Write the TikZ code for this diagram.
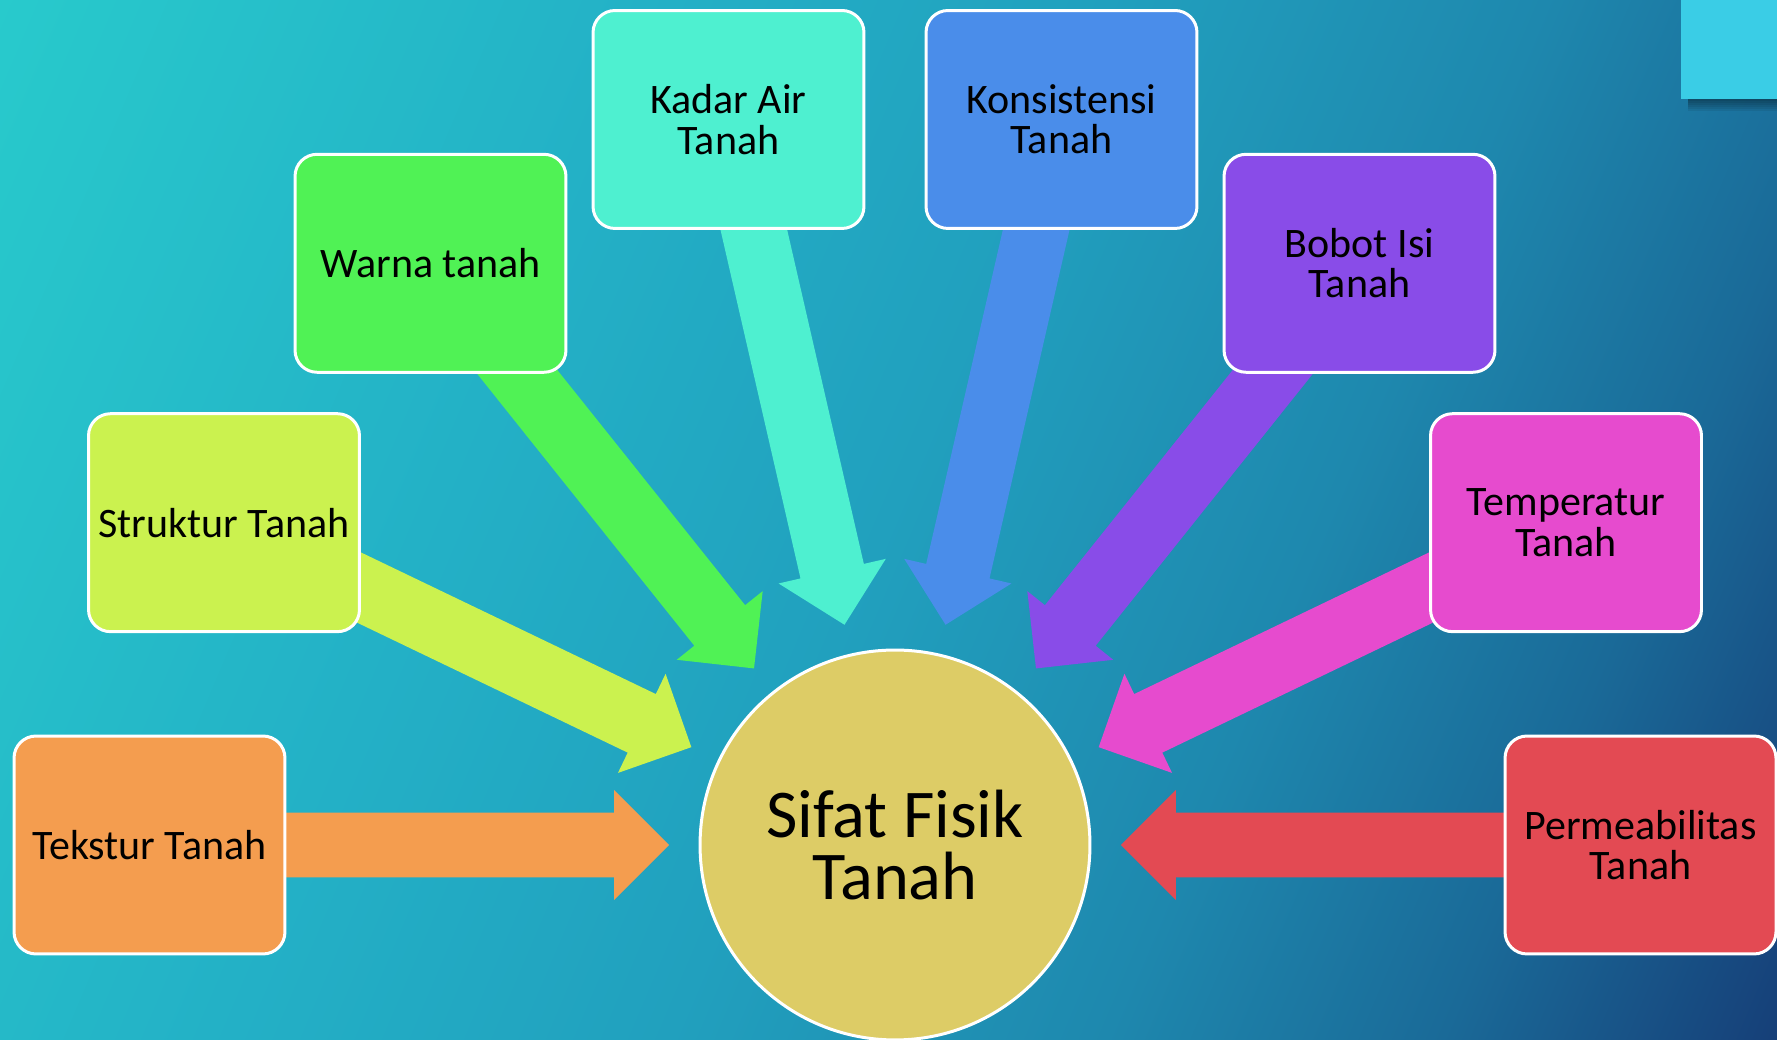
\documentclass[tikz,border=0pt]{standalone}
\usepackage{fontspec}
\setmainfont{Carlito}
\usetikzlibrary{calc}
\definecolor{bgA}{HTML}{28CACC}
\definecolor{bgB}{HTML}{23B0C6}
\definecolor{bgC}{HTML}{21A0BE}
\definecolor{bgD}{HTML}{1E88AE}
\definecolor{bgE}{HTML}{1A6A98}
\definecolor{bgF}{HTML}{163F78}
\definecolor{ctek}{HTML}{F49D4F}
\definecolor{cstr}{HTML}{CBF24F}
\definecolor{cwar}{HTML}{50F255}
\definecolor{ckad}{HTML}{4EF0D0}
\definecolor{ckon}{HTML}{4A8DEA}
\definecolor{cbob}{HTML}{894CE8}
\definecolor{ctem}{HTML}{E64BCE}
\definecolor{cper}{HTML}{E34A53}
\definecolor{ccirc}{HTML}{DDCC66}
\definecolor{ccorner}{HTML}{3ACDE6}
\pgfdeclarehorizontalshading{bgshade}{100bp}{color(0bp)=(bgA); color(17bp)=(bgA); color(37bp)=(bgB); color(50bp)=(bgC); color(63bp)=(bgD); color(73bp)=(bgE); color(83bp)=(bgF); color(100bp)=(bgF)}
\pgfdeclarelayer{bglayer}
\pgfdeclarelayer{arrowlayer}
\pgfsetlayers{bglayer,arrowlayer,main}
\newcommand\bxfont{\fontsize{23.9pt}{22.9pt}\selectfont}
\newcommand\bigfnt{\fontsize{38.9pt}{35.3pt}\selectfont}
\newcommand\blockarrow[2]{%
  \coordinate (#1T) at ($(C.center)!4.52cm!(#1.center)$);
  \coordinate (#1B) at ($(#1T)!1.1cm!(#1.center)$);
  \fill[#2] ($(#1.center)!0.65cm!-90:(#1B)$) -- ($(#1B)!0.65cm!90:(#1.center)$)
    -- ($(#1B)!1.1cm!90:(#1.center)$) -- (#1T) -- ($(#1B)!1.1cm!-90:(#1.center)$)
    -- ($(#1B)!0.65cm!-90:(#1.center)$) -- ($(#1.center)!0.65cm!90:(#1B)$) -- cycle;}
\begin{document}
\begin{tikzpicture}[x=0.02cm,y=0.02cm,
  box/.style={draw=white, line width=0.06cm, rounded corners=0.44cm,
    minimum width=5.42cm, minimum height=4.36cm, inner sep=0pt,
    align=center, text=black, font=\bxfont},
  hub/.style={circle, fill=ccirc, draw=white, line width=0.06cm,
    minimum size=7.8cm, inner sep=0pt, align=center, text=black, font=\bigfnt}]
\useasboundingbox (0,0) rectangle (1777,1040);
\begin{pgfonlayer}{bglayer}
  \shade[shading=bgshade, shading angle=-23] (0,0) rectangle (1777,1040);
  \foreach \i in {1,...,6}
    \fill[black, opacity=0.07] (1688,940.7) rectangle (1777,940.7-2*\i);
  \fill[ccorner] (1681,940.7) rectangle (1777,1040);
\end{pgfonlayer}
\node[hub] (C) at (895,195) {Sifat Fisik\\Tanah};
\node[box, fill=ctek] (tek) at (149.5,195) {Tekstur Tanah};
\node[box, fill=cstr] (str) at (224,517.3) {Struktur Tanah};
\node[box, fill=cwar] (war) at (430.5,776.7) {Warna tanah};
\node[box, fill=ckad] (kad) at (728.5,920.5) {Kadar Air\\Tanah};
\node[box, fill=ckon] (kon) at (1061.5,920.5) {Konsistensi\\Tanah};
\node[box, fill=cbob] (bob) at (1359.5,776.7) {Bobot Isi\\Tanah};
\node[box, fill=ctem] (tem) at (1566,517.3) {Temperatur\\Tanah};
\node[box, fill=cper] (per) at (1640.5,195) {Permeabilitas\\Tanah};
\begin{pgfonlayer}{arrowlayer}
  \blockarrow{tek}{ctek}
  \blockarrow{str}{cstr}
  \blockarrow{war}{cwar}
  \blockarrow{kad}{ckad}
  \blockarrow{kon}{ckon}
  \blockarrow{bob}{cbob}
  \blockarrow{tem}{ctem}
  \blockarrow{per}{cper}
\end{pgfonlayer}
\end{tikzpicture}
\end{document}
